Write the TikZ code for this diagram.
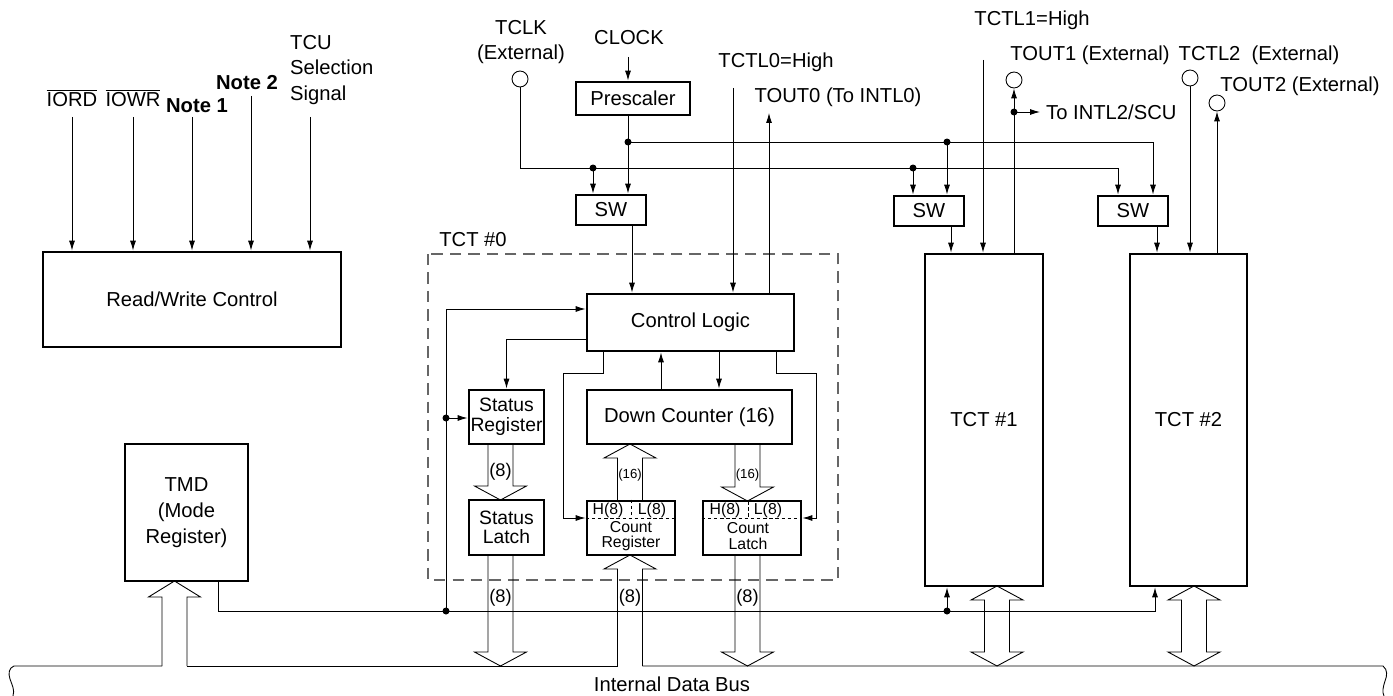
\documentclass[tikz,border=0pt]{standalone}
\usepackage{fontspec}
\setmainfont{Liberation Sans}
\usetikzlibrary{arrows.meta}

\begin{document}
\begin{tikzpicture}[
		x=0.02cm, y=-0.02cm,
		every node/.style={font=\fontsize{11.5}{14.6}\selectfont},
		block/.style={rectangle, draw, line width=1.6pt, inner sep=0pt, align=center},
		tight/.style={font=\fontsize{11}{11.2}\selectfont},
		small/.style={font=\fontsize{9}{8.8}\selectfont},
		tiny/.style={font=\fontsize{7.5}{8}\selectfont},
		label8/.style={font=\fontsize{10.4}{12}\selectfont},
		term/.style={circle, draw, line width=0.5pt, inner sep=0pt, minimum size=0.32cm},
		junct/.style={circle, fill, inner sep=0pt, minimum size=0.14cm},
		wire/.style={line width=0.5pt},
		arrow/.style={wire, -{Latex[length=2mm,width=1.2mm]}},
		fat/.style={line width=0.5pt, line join=miter},
		sep/.style={line width=0.5pt, dash pattern=on 2pt off 1.5pt}
	]
		\useasboundingbox (0,0) rectangle (1393,696);

		% Read/Write side
		\node[block, minimum width=5.96cm, minimum height=1.9cm] (rw) at (192,299.5) {Read/Write Control};
		\node (iord) at (72,98) {$\overline{\mbox{IORD}}$};
		\node (iowr) at (133,98) {$\overline{\mbox{IOWR}}$};
		\node[font=\fontsize{11.5}{12}\selectfont\bfseries] (note1) at (197,106) {Note 1};
		\node[font=\fontsize{11.5}{12}\selectfont\bfseries] (note2) at (247,83) {Note 2};
		\node[anchor=west, align=left] (tcu) at (284,70) {TCU\\Selection\\Signal};
		\draw[arrow] (72,117) -- (rw.north -| 72,0);
		\draw[arrow] (133,117) -- (rw.north -| 133,0);
		\draw[arrow] (192,117) -- (rw.north -| 192,0);
		\draw[arrow] (251,96) -- (rw.north -| 251,0);
		\draw[arrow] (310,117) -- (rw.north -| 310,0);

		\node[block, minimum width=2.46cm, minimum height=2.74cm] (tmd) at (186.5,512.5) {TMD\\(Mode\\Register)};

		% Clock sources
		\node[align=center] (tclklbl) at (521,42) {TCLK\\(External)};
		\node[term] (tclk) at (520,79) {};
		\node (clk) at (629,38) {CLOCK};
		\node[block, minimum width=2.28cm, minimum height=0.66cm] (pre) at (633,98.5) {Prescaler};
		\node[block, minimum width=1.4cm, minimum height=0.6cm] (sw0) at (611,210) {SW};
		\node[block, minimum width=1.4cm, minimum height=0.6cm] (sw1) at (929,211) {SW};
		\node[block, minimum width=1.4cm, minimum height=0.6cm] (sw2) at (1133,211) {SW};

		\node[junct] (jp0) at (628,142) {};
		\node[junct] (jp1) at (947,142) {};
		\node[junct] (jt0) at (593,168) {};
		\node[junct] (jt1) at (913,168) {};
		\coordinate (cp2) at (1153,142);
		\coordinate (ct2) at (1118,168);

		\draw[arrow] (628,57) -- (pre.north -| jp0);
		\draw[arrow] (pre.south -| jp0) -- (sw0.north -| jp0);
		\draw[arrow] (jp0.center) -- (cp2) -- (sw2.north -| cp2);
		\draw[arrow] (jp1.center) -- (sw1.north -| jp1);
		\draw[arrow] (tclk.south) |- (ct2) -- (sw2.north -| ct2);
		\draw[arrow] (jt0.center) -- (sw0.north -| jt0);
		\draw[arrow] (jt1.center) -- (sw1.north -| jt1);

		% TCT #0
		\draw[black!60, line width=0.6pt, dash pattern=on 6.5pt off 4pt] (428,254) rectangle (838,580);
		\node (tct0lbl) at (473,240) {TCT \#0};
		\node[block, minimum width=4.14cm, minimum height=1.14cm] (ctrl) at (690.5,322.5) {Control Logic};
		\node[block, tight, minimum width=1.5cm, minimum height=1.08cm] (sreg) at (506.5,417) {Status\\Register};
		\node[block, minimum width=4.1cm, minimum height=1.08cm] (dcnt) at (689.5,417) {Down Counter (16)};
		\node[block, tight, minimum width=1.5cm, minimum height=1.1cm] (slat) at (506.5,527.5) {Status\\Latch};
		\node[block, minimum width=1.76cm, minimum height=1.08cm] (creg) at (631,528) {};
		\node[block, minimum width=1.96cm, minimum height=1.08cm] (clat) at (752,528) {};

		% H/L halves
		\node[small] (crh) at (608,510) {H(8)};
		\node[small] (crl) at (652,510) {L(8)};
		\node[small, align=center] (crt) at (631,536) {Count\\Register};
		\draw[sep] (creg.west |- 0,518) -- (creg.east |- 0,518);
		\draw[sep] (creg.north) -- (631,518);
		\node[small] (clh) at (725,510) {H(8)};
		\node[small] (cll) at (768,510) {L(8)};
		\node[small, align=center] (clt) at (748,536) {Count\\Latch};
		\draw[sep] (clat.west |- 0,518) -- (clat.east |- 0,518);
		\draw[sep] (748,501) -- (748,518);

		\coordinate (e0) at (733,88);
		\coordinate (e1) at (769,113);
		\node (tctl0) at (776,62) {TCTL0=High};
		\node (tout0) at (838,97) {TOUT0 (To INTL0)};
		\draw[arrow] (sw0.south -| 632,0) -- (ctrl.north -| 632,0);
		\draw[arrow] (e0) -- (ctrl.north -| e0);
		\draw[arrow] (ctrl.north -| e1) -- (e1);

		\node[junct] (jm0) at (446,611) {};
		\node[junct] (jm1) at (446,418) {};
		\node[junct] (jm2) at (947,611) {};
		\coordinate (cl) at (446,309);
		\draw[arrow] (jm0.center) -- (cl) -- (ctrl.west |- cl);
		\draw[arrow] (jm1.center) -- (sreg.west |- jm1);
		\draw[arrow] (ctrl.west |- 0,339) -| (sreg.north);
		\draw[arrow] (ctrl.south -| 603,0) |- (563,373) |- (creg.west |- 0,518);
		\draw[arrow] (ctrl.south -| 776,0) |- (816,373) |- (clat.east |- 0,518);
		\draw[arrow] (dcnt.north -| 661,0) -- (ctrl.south -| 661,0);
		\draw[arrow] (ctrl.south -| 719,0) -- (dcnt.north -| 719,0);

		% TCT #1 and #2
		\node[block, minimum width=2.36cm, minimum height=6.64cm] (tct1) at (984,420) {TCT \#1};
		\node[block, minimum width=2.34cm, minimum height=6.64cm] (tct2) at (1188.5,420) {TCT \#2};
		\node (tctl1) at (1032,20) {TCTL1=High};
		\node (tout1lbl) at (1090,55) {TOUT1 (External)};
		\node[term] (tout1) at (1014,80) {};
		\node[junct] (jo1) at (1014,112) {};
		\node[anchor=west] (intl) at (1040,112) {To INTL2/SCU};
		\node (tctl2lbl) at (1259,55) {TCTL2\ \ (External)};
		\node[term] (tctl2) at (1190,78) {};
		\node (tout2lbl) at (1300,86) {TOUT2 (External)};
		\node[term] (tout2) at (1217,103) {};
		\coordinate (e2) at (983,60);

		\draw[arrow] (e2) -- (tct1.north -| e2);
		\draw[arrow] (sw1.south -| 951,0) -- (tct1.north -| 951,0);
		\draw[arrow] (tct1.north -| tout1) -- (tout1.south);
		\draw[arrow] (jo1.center) -- (intl.west);
		\draw[arrow] (tctl2.south) -- (tct2.north -| tctl2);
		\draw[arrow] (sw2.south -| 1157,0) -- (tct2.north -| 1157,0);
		\draw[arrow] (tct2.north -| tout2) -- (tout2.south);

		% Mode register line
		\draw[arrow] (tmd.south -| 218,0) |- (1155,611) -- (tct2.south -| 1155,0);
		\draw[arrow] (jm2.center) -- (tct1.south -| jm2);

		% Wide bus arrows
		\draw[fat] (488,444) -- (488,486) -- (474.5,486) -- (500.5,500) -- (526.5,486) -- (513,486) -- (513,444);
		\draw[fat] (488,555) -- (488,652) -- (474.5,652) -- (500.5,666) -- (526.5,652) -- (513,652) -- (513,555);
		\draw[fat] (617.5,501) -- (617.5,458) -- (604,458) -- (630,444) -- (656,458) -- (642.5,458) -- (642.5,501);
		\draw[fat] (735,444) -- (735,487) -- (721.5,487) -- (747.5,501) -- (773.5,487) -- (760,487) -- (760,444);
		\draw[fat] (617.5,666) -- (617.5,569) -- (604,569) -- (630,555) -- (656,569) -- (642.5,569) -- (642.5,666);
		\draw[fat] (735,555) -- (735,652) -- (721.5,652) -- (747.5,666) -- (773.5,652) -- (760,652) -- (760,555);
		\draw[fat] (162,666) -- (162,597) -- (148.5,597) -- (174.5,581) -- (200.5,597) -- (187,597) -- (187,666);
		\draw[fat] (984.5,600) -- (971,600) -- (997,586) -- (1023,600) -- (1009.5,600) -- (1009.5,652) -- (1023,652) -- (997,666) -- (971,652) -- (984.5,652) -- cycle;
		\draw[fat] (1181.5,600) -- (1168,600) -- (1194,586) -- (1220,600) -- (1206.5,600) -- (1206.5,652) -- (1220,652) -- (1194,666) -- (1168,652) -- (1181.5,652) -- cycle;

		\node[label8] (b1) at (500.5,472) {(8)};
		\node[label8] (b2) at (500.5,598) {(8)};
		\node[label8] (b3) at (630,598) {(8)};
		\node[label8] (b4) at (747.5,598) {(8)};
		\node[tiny] (b5) at (630,475) {(16)};
		\node[tiny] (b6) at (747.5,475) {(16)};

		% Internal data bus
		\draw[wire] (13,696) .. controls (15,690) and (12,685) .. (10,679) .. controls (8,673) and (9,668) .. (14,666) -- (162,666);
		\draw[wire] (187,666) -- (617.5,666);
		\draw[wire] (642.5,666) -- (1383,666) .. controls (1388,670) and (1387,676) .. (1385,681) .. controls (1383,687) and (1382,692) .. (1384,696);
		\node (busl) at (672,684) {Internal Data Bus};
	\end{tikzpicture}
\end{document}
